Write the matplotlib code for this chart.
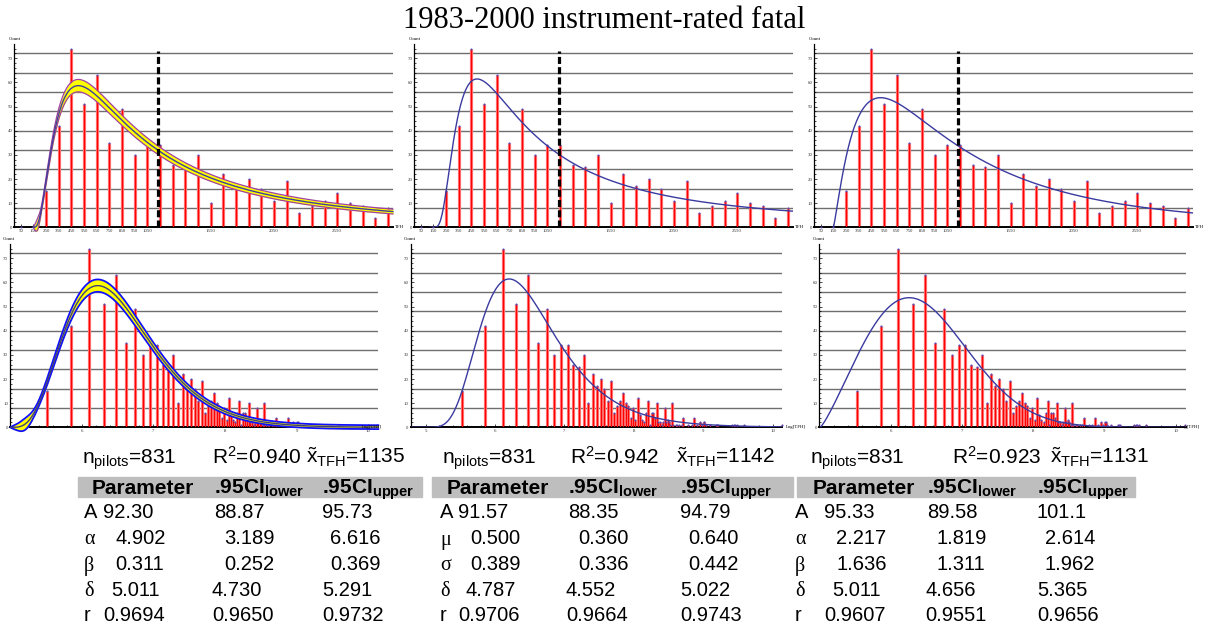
import numpy as np
import matplotlib.pyplot as plt
from matplotlib.patches import Rectangle
from math import gamma, sqrt, pi

plt.rcParams['mathtext.fontset'] = 'custom'
plt.rcParams['mathtext.rm'] = 'Liberation Sans'
plt.rcParams['mathtext.bf'] = 'Liberation Sans:bold'
plt.rcParams['mathtext.it'] = 'Liberation Sans:italic'
plt.rcParams['font.family'] = 'Liberation Sans'

W, H = 1209, 626

# counts per 100 h TFH bin (bin centres)
bin_tfh = [50, 150, 250, 350, 450, 550, 650, 750, 850, 950, 1050, 1150, 1250, 1350, 1450,
           1550, 1650, 1750, 1850, 1950, 2050, 2150, 2250, 2350, 2450, 2550, 2650, 2750, 2850, 2950]
bin_count = [0, 0, 15, 42, 74, 51, 63, 35, 49, 30, 34, 34, 26, 25, 30,
             10, 22, 17, 20, 16, 11, 19, 6, 9, 11, 14, 10, 9, 4, 8]
tail_tfh = [3050, 3150, 3250, 3350, 3450, 3550, 3650, 3750, 3850, 3950, 4050, 4150, 4250, 4350,
            4450, 4550, 4650, 4750, 4850, 4950, 5050, 5150, 5250, 5450, 5550, 5750, 5950, 6050,
            6550, 6850, 7150, 7450, 7750, 7950, 8150, 8250, 8450, 8950, 9750, 9950, 10050,
            12350, 12550, 12850, 13150, 14550, 25050]
tail_count = [3, 12, 5, 3, 2, 6, 11, 1, 6, 6, 4, 10, 2, 2,
              1, 2, 8, 2, 3, 2, 1, 10, 1, 1, 1, 1, 1, 4,
              1, 1, 4, 1, 2, 1, 2, 2, 1, 1, 1, 1, 1,
              1, 1, 1, 1, 1, 1]

median_tfh = [1135, 1142, 1131]
r_squared = ['0.940', '0.942', '0.923']
median_label = ['1135', '1142', '1131']
n_pilots = 831

# fitted models: 0 = shifted gamma, 1 = shifted log-normal, 2 = shifted Weibull (in Log[TFH])
fit_A = [92.30, 91.57, 95.33]
fit_p1 = [4.902, 0.500, 2.217]
fit_p2 = [0.311, 0.389, 1.636]
fit_delta = [5.011, 4.787, 5.011]

param_symbols = [['A', 'α', 'β', 'δ', 'r'], ['A', 'μ', 'σ', 'δ', 'r'], ['A', 'α', 'β', 'δ', 'r']]
param_est = [['92.30', '4.902', '0.311', '5.011', '0.9694'],
             ['91.57', '0.500', '0.389', '4.787', '0.9706'],
             ['95.33', '2.217', '1.636', '5.011', '0.9607']]
param_lower = [['88.87', '3.189', '0.252', '4.730', '0.9650'],
               ['88.35', '0.360', '0.336', '4.552', '0.9664'],
               ['89.58', '1.819', '1.311', '4.656', '0.9551']]
param_upper = [['95.73', '6.616', '0.369', '5.291', '0.9732'],
               ['94.79', '0.640', '0.442', '5.022', '0.9743'],
               ['101.1', '2.614', '1.962', '5.365', '0.9656']]

# approximate half width of the confidence band of the gamma fit
band_abs, band_rel = 0.8, 0.03


def model(kind, x, A, p1, p2, d):
    u = np.asarray(x, dtype=float) - d
    y = np.zeros_like(u)
    m = u > 0
    v = u[m]
    if kind == 0:
        y[m] = A * v**(p1 - 1) * np.exp(-v / p2) / (gamma(p1) * p2**p1)
    elif kind == 1:
        y[m] = A * np.exp(-(np.log(v) - p1)**2 / (2 * p2**2)) / (v * p2 * sqrt(2 * pi))
    else:
        y[m] = A * (p1 / p2) * (v / p2)**(p1 - 1) * np.exp(-(v / p2)**p1)
    return y


def band(x, c, d):
    u = np.clip(np.asarray(x) - d, 0, None)
    hw = (band_abs + band_rel * c) * (1 - np.exp(-u / 0.05)) + 1.6 * np.exp(-((u - 0.2) / 0.12)**2)
    return c - hw, c + hw


fig = plt.figure(figsize=(W / 100, H / 100), dpi=100)


def px_axes(left, top, width, bottom):
    return fig.add_axes([left / W, 1 - bottom / H, width / W, (bottom - top) / H])


def ftext(x, y, s, **kw):
    return fig.text(x / W, 1 - y / H, s, **kw)


def style(ax):
    ax.set_facecolor('none')
    for s in ['top', 'right']:
        ax.spines[s].set_visible(False)
    ax.spines['left'].set_linewidth(0.9)
    ax.spines['bottom'].set_linewidth(1.4)
    ax.set_ylim(0, 76)
    ax.set_yticks(range(0, 71, 10))
    ax.set_yticks(range(0, 76, 2), minor=True)
    ax.tick_params(axis='both', which='both', direction='in', labelsize=3.5, pad=1.5,
                   length=2.2, width=0.5, labelfontfamily='Liberation Serif', labelcolor='#333333')
    ax.tick_params(which='minor', length=1.2)
    for y in range(8, 73, 8):
        ax.axhline(y, color='#6e6e6e', lw=1.0, zorder=0)


def bars(ax, x, n):
    ax.vlines(x, 0, n, colors='#ff7a7a', lw=2.3, zorder=2)
    ax.vlines(x, 0, n, colors='#ff0000', lw=0.9, zorder=3)
    ax.plot(x, n, 'o', ms=1.5, color='#5a4ab0', mec='none', zorder=4, clip_on=False)


fig.text(0.5, 1 - 28 / H, '1983-2000 instrument-rated fatal', ha='center', va='baseline',
         family='Liberation Serif', fontsize=22)

# top row: counts against TFH
top_left = [14.4, 414.4, 814.4]
for k in range(3):
    ax = px_axes(top_left[k], 43.8, 378.5, 227.3)
    style(ax)
    ax.set_xlim(0, 2990)
    ax.set_xticks([50, 150, 250, 350, 450, 550, 650, 750, 850, 950, 1050, 1550, 2050, 2550])
    bars(ax, bin_tfh, bin_count)
    t = np.linspace(np.exp(fit_delta[k]), 2990, 900)
    c = model(k, np.log(t), fit_A[k], fit_p1[k], fit_p2[k], fit_delta[k])
    if k == 0:
        lo, hi = band(np.log(t), c, fit_delta[k])
        ax.fill_between(t, lo, hi, color='#ffff00', zorder=5, clip_on=False, lw=0)
        ax.plot(t, lo, color='#a040a0', lw=0.9, zorder=6, clip_on=False)
        ax.plot(t, hi, color='#a040a0', lw=0.9, zorder=6, clip_on=False)
        ax.plot(t, c, color='#40409a', lw=1.0, zorder=7, clip_on=False)
    else:
        ax.plot(t, c, color='#3a3aa0', lw=1.0, zorder=6)
    ax.vlines(median_tfh[k], 0, 73, colors='black', lw=2.3, linestyles=(0, (2.2, 1.0)), zorder=8)
    ftext(top_left[k] - 6, 39, 'Count', family='Liberation Serif', fontsize=3.5, va='center')
    ftext(top_left[k] + 381, 227, 'TFH', family='Liberation Serif', fontsize=3.5, va='center')

# bottom row: counts against Log[TFH]
all_tfh = bin_tfh[2:] + tail_tfh
all_count = bin_count[2:] + tail_count
bot_left = [10, 410.8, 819.4]
bot_width = [368.3, 371.5, 366.9]
bot_xmin = [5.011, 4.787, 5.011]
bot_xmax = [10.14, 10.14, 10.15]
loglabel_x = [362, 786, 1180]
for k in range(3):
    ax = px_axes(bot_left[k], 243.8, bot_width[k], 427.3)
    style(ax)
    ax.set_xlim(bot_xmin[k], bot_xmax[k])
    ax.set_xticks([x for x in range(5, 11) if x >= bot_xmin[k]])
    ax.set_xticks(np.arange(5.0, 10.2, 0.2), minor=True)
    bars(ax, np.log(all_tfh), all_count)
    x = np.linspace(bot_xmin[k], bot_xmax[k], 900)
    c = model(k, x, fit_A[k], fit_p1[k], fit_p2[k], fit_delta[k])
    if k == 0:
        lo, hi = band(x, c, fit_delta[k])
        ax.fill_between(x, lo, hi, color='#ffff00', zorder=5, clip_on=False, lw=0)
        ax.plot(x, lo, color='#1010ff', lw=1.3, zorder=6, clip_on=False)
        ax.plot(x, hi, color='#1010ff', lw=1.3, zorder=6, clip_on=False)
        ax.plot(x, c, color='#404078', lw=1.0, zorder=7, clip_on=False)
    else:
        ax.plot(x, c, color='#3a3aa0', lw=1.0, zorder=6)
    ftext(bot_left[k] - 7, 239, 'Count', family='Liberation Serif', fontsize=3.5, va='center')
    ftext(loglabel_x[k], 427, 'Log[TFH]', family='Liberation Serif', fontsize=3.5, va='center')

# parameter tables
n_x = [82, 442, 810]
r2_x = [212, 570, 952]
med_x = [306, 676, 1050]
band_x0 = [78, 432, 797]
band_x1 = [422, 793, 1135]
head_x = [[92, 214, 322], [447, 568, 680], [813, 927, 1037]]
sym_x = [84, 440, 795]
row_shift = [[0, 0, 0], [12, 10, 8], [12, 10, 8], [8, -2, 0], [0, -2, 0]]
row_base = [518, 544.5, 570.5, 596, 621]

for k in range(3):
    ftext(n_x[k], 464, r'n$_{\mathrm{pilots}}$=%d' % n_pilots, fontsize=15, va='baseline')
    ftext(r2_x[k], 464, r'R$^{2}$=' + r_squared[k], fontsize=15, va='baseline')
    ftext(med_x[k], 464, r'$\tilde{\mathrm{x}}_{\mathrm{TFH}}$=' + median_label[k], fontsize=15, va='baseline')
    fig.patches.append(Rectangle((band_x0[k] / W, 1 - 496.7 / H), (band_x1[k] - band_x0[k]) / W, 20 / H,
                                 transform=fig.transFigure, color='#bebebe', zorder=0))
    ftext(head_x[k][0], 494, 'Parameter', fontsize=15, fontweight='bold', va='baseline')
    ftext(head_x[k][1], 494, r'.95CI$_{\mathbf{lower}}$', fontsize=15, fontweight='bold', va='baseline')
    ftext(head_x[k][2], 494, r'.95CI$_{\mathbf{upper}}$', fontsize=15, fontweight='bold', va='baseline')
    base = [head_x[k][0] + 11, head_x[k][1], head_x[k][2]]
    for i in range(5):
        sym = param_symbols[k][i]
        fam = 'Liberation Sans' if sym in ('A', 'r') else 'Liberation Serif'
        ftext(sym_x[k], row_base[i], sym, family=fam, fontsize=14.5, va='baseline')
        vals = [param_est[k][i], param_lower[k][i], param_upper[k][i]]
        for j in range(3):
            ftext(base[j] + row_shift[i][j], row_base[i], vals[j], fontsize=14.5, va='baseline')

fig.savefig('out.png', dpi=100)
